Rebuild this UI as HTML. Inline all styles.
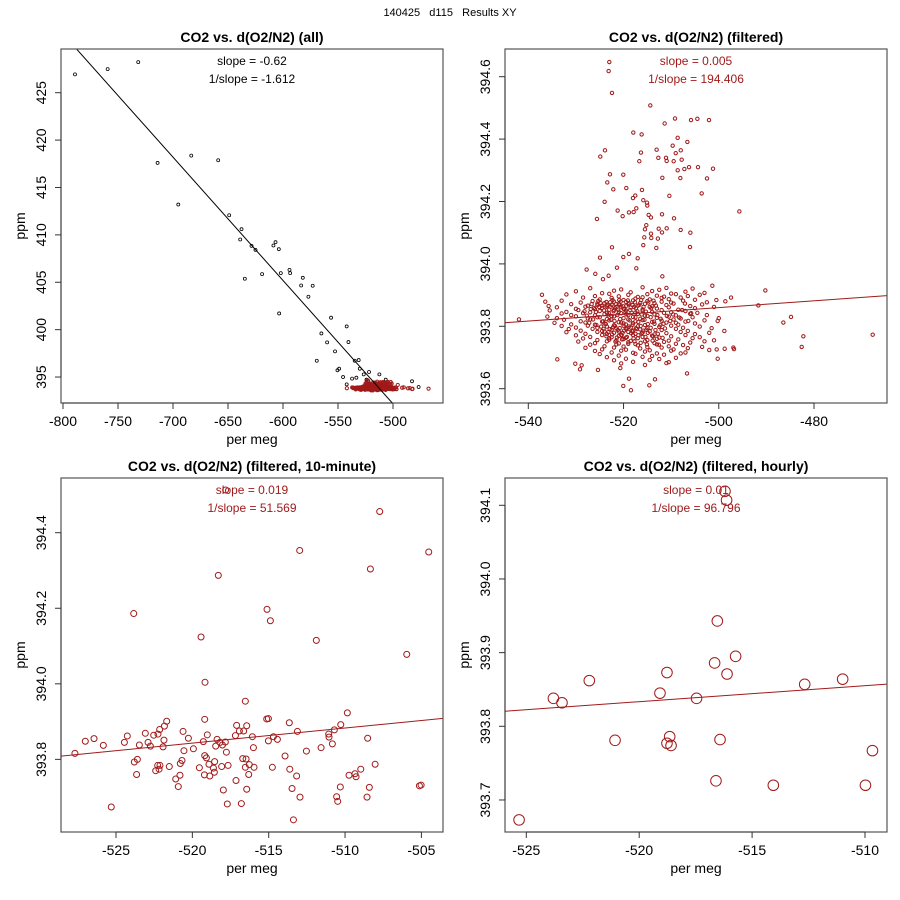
<!DOCTYPE html>
<html><head><meta charset="utf-8">
<style>
html,body{margin:0;padding:0;background:#fff;}
svg{display:block;font-family:"Liberation Sans",sans-serif;}
</style></head>
<body>
<svg id="chart" width="900" height="900" viewBox="0 0 900 900" xmlns="http://www.w3.org/2000/svg">
<rect x="0" y="0" width="900" height="900" fill="#fff"/>
<text x="450" y="16" text-anchor="middle" font-size="11" style="white-space:pre">140425   d115   Results XY</text>
</svg>
<script>
// ---- data ----
const allX = [-789.1,-759.4,-731.6,-714.0,-695.2,-683.4,-658.9,-648.9,-637.7,-638.9,-634.7,-628.6,-625.0,-619.0,-608.7,-606.8,-603.8,-602.0,-603.5,-594.1,-593.5,-582.0,-583.5,-573.0,-576.9,-556.3,-565.1,-559.9,-569.3,-552.7,-542.1,-540.5,-534.8,-531.2,-530.2,-550.5,-549.0,-545.4,-537.2,-533.3,-542.1,-526.6,-521.8,-512.4,-482.7,-476.7,-506.6,-524.1];
const allY = [426.93,427.49,428.23,417.59,413.20,418.36,417.87,412.07,410.60,409.51,405.37,408.84,408.42,405.86,408.88,409.23,408.49,405.96,401.71,406.31,405.96,405.47,404.66,404.63,403.47,401.26,399.60,398.66,396.72,397.71,400.34,398.69,396.72,396.79,395.88,395.71,395.88,395.00,394.83,394.93,394.23,395.28,395.53,395.28,394.55,393.95,394.72,394.72];
const allFit = [-0.1301, 327.13]; // slope, intercept

const filtOutX = [-522.99,-523.13,-522.43,-514.38,-511.37,-509.19,-505.83,-504.50,-502.05,-517.95,-516.20,-508.63,-506.60,-509.68,-513.05,-523.90,-516.34,-524.88,-507.99,-509.04,-512.69,-511.08,-510.94,-516.69,-509.47,-507.79,-504.36,-506.25,-507.23,-508.63,-501.21,-522.85,-520.05,-511.85,-508.07,-502.47,-523.41,-519.42,-522.15,-516.13,-503.59,-518.02,-510.38,-517.53,-523.97,-515.85,-515.08,-515.01,-495.68,-521.24,-518.86,-517.88,-517.32,-511.92,-520.19,-525.58,-514.73,-514.24,-509.40,-515.22,-515.50,-512.62,-510.94,-514.24,-511.92,-508.00,-505.97,-515.64,-512.79,-514.17,-515.85,-513.12,-506.04,-522.43,-520.05,-518.86,-524.95,-517.03,-521.38,-517.32,-527.75,-525.93,-523.13,-524.32,-511.85,-490.22,-491.69,-486.44,-484.83,-482.24,-482.59,-467.68,-496.94,-496.80,-497.43,-498.62,-498.83,-500.51,-501.35,-541.96,-537.13,-536.43,-533.91,-530.13,-529.15,-528.80,-525.37,-520.05,-518.44,-514.59,-513.40,-520.68,-518.86,-506.67,-500.23,-500.44,-500.23,-498.76,-535.73];
const filtOutY = [394.647,394.618,394.548,394.508,394.450,394.466,394.461,394.465,394.461,394.421,394.415,394.404,394.391,394.379,394.366,394.364,394.357,394.344,394.364,394.355,394.340,394.340,394.330,394.329,394.329,394.334,394.310,394.310,394.304,394.300,394.305,394.287,394.286,394.276,394.275,394.274,394.261,394.243,394.239,394.237,394.226,394.211,394.218,394.219,394.199,394.204,394.196,394.187,394.168,394.171,394.165,394.166,394.178,394.159,394.153,394.144,394.157,394.149,394.146,394.124,394.111,394.113,394.114,394.097,394.101,394.109,394.100,394.085,394.081,394.083,394.060,394.051,394.054,394.053,394.022,394.032,394.020,394.018,393.988,393.986,393.982,393.968,393.962,393.951,393.960,393.915,393.867,393.812,393.830,393.768,393.734,393.773,393.732,393.727,393.892,393.880,393.785,393.884,393.930,393.822,393.901,393.879,393.694,393.680,393.662,393.675,393.660,393.609,393.595,393.611,393.630,393.666,393.632,393.649,393.696,393.726,393.817,393.728,393.865];
// dense cluster of filtered data, "x,y" pairs
const filtCluster = [
"-527,393.922","-520.5,393.918","-516,393.925","-512.5,393.917","-511,393.923","-505.5,393.921",
"-530,393.912","-524.5,393.906","-522,393.914","-518.5,393.909","-514,393.913","-510,393.905","-507,393.911","-503,393.907",
"-532,393.902","-526,393.897","-523,393.904","-521,393.896","-519,393.901","-517,393.894","-515,393.903","-513,393.898","-511.5,393.895","-509,393.903","-506.5,393.897","-504,393.901",
"-528.5,393.892","-525,393.886","-522.5,393.891","-520,393.884","-517.5,393.889","-516,393.893","-514.5,393.886","-512,393.891","-510.5,393.887","-508,393.892","-505,393.885",
"-533,393.882","-529,393.876","-526.5,393.881","-524,393.874","-522,393.879","-521,393.872","-519.5,393.878","-518,393.883","-516.5,393.875","-515,393.881","-513.5,393.874","-512,393.879","-510,393.876","-507.5,393.882","-502.5,393.877",
"-531,393.871","-527.5,393.866","-525.5,393.873","-523.5,393.864","-522.5,393.869","-520.5,393.863","-519,393.871","-517,393.866","-515.5,393.872","-514,393.864","-511,393.868","-509.5,393.873","-506,393.865","-503.5,393.870",
"-534,393.861","-530,393.856","-528,393.863","-526,393.855","-524.5,393.859","-523,393.853","-521.5,393.862","-520,393.856","-518.5,393.860","-516,393.854","-514.5,393.862","-513,393.857","-510.5,393.861","-508.5,393.853","-505,393.858","-501,393.862",
"-535.5,393.851","-532,393.846","-529.5,393.852","-527,393.845","-525,393.849","-523.5,393.843","-522,393.852","-521,393.847","-519.5,393.851","-517.5,393.844","-516,393.850","-514,393.846","-512,393.852","-510,393.845","-507,393.849","-504.5,393.843",
"-533,393.841","-531,393.836","-528.5,393.842","-526,393.835","-524,393.839","-522.5,393.833","-520.5,393.842","-519,393.836","-517,393.840","-515.5,393.834","-513.5,393.838","-511.5,393.843","-509,393.835","-506,393.840","-502.5,393.836",
"-536,393.831","-534,393.826","-530,393.832","-527.5,393.825","-525.5,393.829","-523.5,393.823","-522,393.832","-520,393.826","-518,393.830","-516.5,393.824","-515,393.833","-513,393.827","-510.5,393.831","-508,393.825","-505.5,393.829","-500,393.826",
"-532.5,393.821","-529,393.816","-527,393.822","-524.5,393.815","-523,393.819","-521,393.813","-519,393.822","-517.5,393.816","-516,393.820","-514,393.814","-512,393.818","-509.5,393.822","-507,393.815","-503,393.819",
"-534.5,393.811","-531,393.806","-528,393.812","-526,393.805","-524,393.809","-522,393.803","-520.5,393.812","-519.5,393.806","-518,393.810","-515.5,393.804","-513.5,393.808","-511,393.812","-508.5,393.805","-505,393.809",
"-533,393.801","-530,393.796","-527.5,393.802","-525.5,393.795","-523.5,393.799","-521.5,393.793","-520,393.802","-518.5,393.796","-517,393.800","-515,393.794","-512.5,393.798","-510,393.802","-507.5,393.795","-504,393.799","-501.5,393.794",
"-531.5,393.791","-529,393.786","-526.5,393.792","-524.5,393.785","-522.5,393.789","-521,393.783","-519.5,393.792","-518,393.786","-516.5,393.790","-514.5,393.784","-512,393.788","-509,393.792","-506.5,393.785",
"-532,393.781","-528,393.776","-525.5,393.782","-523.5,393.775","-522,393.779","-520.5,393.773","-519,393.782","-517.5,393.776","-516,393.780","-513.5,393.774","-511,393.778","-508,393.782","-505,393.775","-502,393.779",
"-530,393.771","-527,393.766","-524.5,393.772","-522.5,393.765","-521,393.769","-519.5,393.763","-518,393.772","-516,393.766","-514,393.770","-512.5,393.764","-510,393.768","-507,393.772","-504,393.765",
"-528.5,393.761","-525.5,393.756","-523,393.762","-521.5,393.755","-520,393.759","-518.5,393.753","-517,393.762","-515,393.756","-513,393.760","-510.5,393.754","-508.5,393.758","-505.5,393.762","-501,393.755",
"-529.5,393.751","-526,393.746","-523.5,393.752","-521,393.745","-519,393.749","-517.5,393.743","-515.5,393.752","-513.5,393.746","-511.5,393.750","-509,393.744","-506,393.748","-503,393.752",
"-527,393.741","-524,393.736","-521.5,393.742","-520,393.735","-517,393.739","-515,393.733","-513,393.742","-510.5,393.736","-507.5,393.740","-503.5,393.734",
"-528,393.731","-524.5,393.726","-522,393.732","-519.5,393.725","-516.5,393.729","-514.5,393.723","-512,393.732","-509.5,393.726","-506.5,393.730","-502,393.724",
"-526,393.721","-522.5,393.716","-520.5,393.722","-518,393.715","-515.5,393.719","-513,393.713","-510,393.722","-507,393.716",
"-525,393.711","-521,393.706","-517.5,393.712","-514,393.705","-511.5,393.709","-508,393.713",
"-523.5,393.701","-519.5,393.696","-516,393.702","-512.5,393.695","-509,393.699",
"-522,393.691","-518,393.686","-514.5,393.692","-510.5,393.685",
"-520.5,393.681","-515.5,393.676","-511,393.682",
"-525.5,393.868","-524.8,393.874","-523.8,393.861","-522.8,393.877","-521.8,393.858","-520.8,393.869","-519.8,393.855","-518.8,393.874","-517.8,393.862",
"-524.2,393.792","-523.2,393.781","-522.2,393.797","-521.2,393.788","-520.2,393.779","-519.2,393.795","-518.2,393.784","-517.2,393.791","-516.2,393.777","-515.2,393.789",
"-526.7,393.871","-526.2,393.859","-525.8,393.846","-525.3,393.881","-524.6,393.866","-524.1,393.851","-523.6,393.878","-523.1,393.842","-522.7,393.863","-522.3,393.884","-521.6,393.871","-521.1,393.853","-520.6,393.879","-520.1,393.864","-519.6,393.845","-519.1,393.883","-518.6,393.852","-518.1,393.868","-517.6,393.877","-517.1,393.848",
"-526.9,393.855","-525.1,393.862","-523.4,393.869","-522.1,393.848","-520.9,393.884","-519.4,393.866","-518.3,393.843","-517.4,393.858","-516.7,393.869","-516.3,393.884","-515.8,393.862","-515.3,393.847","-514.8,393.876","-514.2,393.858","-513.7,393.882","-513.2,393.866",
"-524.7,393.799","-524.0,393.783","-523.6,393.768","-522.9,393.791","-522.4,393.774","-521.8,393.801","-521.4,393.764","-520.8,393.794","-520.4,393.771","-519.9,393.786","-519.3,393.766","-518.9,393.799","-518.4,393.778","-517.9,393.761","-517.4,393.794","-516.9,393.771","-516.4,393.801","-515.9,393.786","-515.4,393.766","-514.9,393.779",
"-514.3,393.795","-513.8,393.768","-513.3,393.788","-512.8,393.776","-512.3,393.803","-511.8,393.763","-511.3,393.793","-523.0,393.757","-521.7,393.751","-520.3,393.758","-519.0,393.744","-517.7,393.752","-516.4,393.747","-515.1,393.742","-513.9,393.754","-512.6,393.741",
"-528.2,393.848","-527.7,393.834","-527.2,393.811","-526.4,393.822","-525.7,393.804","-525.0,393.829","-524.3,393.816","-523.7,393.807","-523.2,393.835","-522.6,393.821","-521.9,393.817","-521.3,393.836","-520.7,393.823","-520.0,393.809","-519.4,393.838","-518.7,393.819","-518.1,393.805","-517.5,393.829","-516.9,393.814","-516.2,393.838",
"-515.6,393.821","-514.9,393.807","-514.3,393.829","-513.6,393.815","-512.9,393.836","-512.2,393.824","-511.6,393.808","-510.9,393.833","-510.2,393.817","-509.6,393.838","-509.0,393.811","-508.3,393.828","-507.7,393.852","-507.1,393.873","-506.4,393.817","-505.8,393.842"
];
const filtFit = [0.00108, 394.400];

const tenX = [-527.69,-527.01,-526.44,-525.83,-525.31,-524.45,-524.26,-523.84,-523.80,-523.60,-523.65,-523.47,-523.08,-522.90,-522.75,-522.53,-522.40,-522.27,-522.25,-522.18,-522.12,-522.14,-521.92,-521.86,-521.83,-521.68,-521.51,-521.09,-520.92,-520.81,-520.79,-520.68,-520.61,-520.55,-520.26,-519.93,-519.54,-519.43,-519.28,-519.19,-519.19,-519.17,-519.08,-519.21,-519.02,-518.91,-518.86,-518.62,-518.54,-518.56,-518.47,-518.38,-518.30,-518.19,-518.08,-518.03,-517.97,-517.84,-517.77,-517.71,-517.66,-517.18,-517.14,-517.10,-516.92,-516.79,-516.70,-516.64,-516.53,-516.53,-516.48,-516.44,-516.44,-516.31,-516.27,-516.07,-516.00,-515.96,-515.13,-515.02,-515.11,-515.02,-514.89,-514.76,-514.69,-514.43,-513.93,-513.65,-513.62,-513.47,-513.38,-513.17,-513.12,-512.97,-512.95,-512.53,-511.88,-511.57,-511.07,-511.05,-510.83,-510.70,-510.55,-510.48,-510.31,-510.28,-509.85,-509.74,-509.35,-509.28,-508.97,-508.56,-508.52,-508.41,-508.34,-508.03,-507.73,-505.96,-505.13,-505.02,-504.52,-517.82];
const tenY = [393.816,393.848,393.855,393.837,393.674,393.845,393.862,394.186,393.793,393.800,393.760,393.838,393.869,393.845,393.835,393.864,393.770,393.784,393.867,393.774,393.784,393.879,393.833,393.851,393.888,393.901,393.781,393.748,393.728,393.758,393.789,393.797,393.874,393.823,393.856,393.828,393.778,394.124,393.847,393.906,393.810,394.004,393.804,393.759,393.865,393.787,393.756,393.777,393.794,393.766,393.835,393.853,394.287,393.845,393.781,393.838,393.719,393.846,393.819,393.682,393.784,393.863,393.744,393.890,393.875,393.683,393.802,393.875,393.954,393.779,393.801,393.889,393.721,393.760,393.786,393.860,393.831,393.779,393.907,393.908,394.197,393.849,394.167,393.779,393.860,393.853,393.809,393.897,393.774,393.723,393.640,393.756,393.874,394.353,393.700,393.822,394.115,393.831,393.867,393.859,393.841,393.878,393.701,393.689,393.727,393.892,393.923,393.758,393.762,393.754,393.774,393.700,393.856,393.726,394.304,393.787,394.456,394.078,393.730,393.732,394.349,394.513];
const tenFit = [0.004, 395.923];

const hrX = [-525.32,-523.80,-523.42,-522.21,-521.07,-519.08,-518.77,-518.65,-518.77,-518.59,-517.46,-516.66,-516.54,-516.11,-516.42,-516.60,-515.73,-516.20,-516.13,-514.06,-512.67,-510.99,-509.98,-509.67];
const hrY = [393.673,393.838,393.832,393.862,393.781,393.845,393.873,393.786,393.777,393.774,393.838,393.886,393.943,393.871,393.782,393.726,393.895,394.119,394.107,393.720,393.857,393.864,393.720,393.767];
const hrFit = [0.00218, 394.967];

const p1XTicks = [-800,-750,-700,-650,-600,-550,-500];
const p1YTicks = [395,400,405,410,415,420,425];
const p2XTicks = [-540,-520,-500,-480];
const p2YTicks = [393.6,393.8,394.0,394.2,394.4,394.6];
const p3XTicks = [-525,-520,-515,-510,-505];
const p3YTicks = [393.8,394.0,394.2,394.4];
const p4XTicks = [-525,-520,-515,-510];
const p4YTicks = [393.7,393.8,393.9,394.0,394.1];

// ---- drawing ----
const NS = "http://www.w3.org/2000/svg";
const svg = document.getElementById("chart");
const RED = "#a11a1a";
function mk(tag, attrs, parent){
  const e = document.createElementNS(NS, tag);
  for (const k in attrs) e.setAttribute(k, attrs[k]);
  (parent||svg).appendChild(e);
  return e;
}
const clX = filtCluster.map(s => parseFloat(s.split(",")[0]));
const clY = filtCluster.map(s => parseFloat(s.split(",")[1]));
const filtX = filtOutX.concat(clX);
const filtY = filtOutY.concat(clY);

function panel(cfg){
  const g = mk("g", {});
  
  
  const sx = v => cfg.x0 + (v - cfg.xv0) * cfg.kx;
  const sy = v => cfg.y0 + (cfg.yv0 - v) * cfg.ky;
  const cid = cfg.name + "-clip";
  const cp = mk("clipPath", {id: cid}, g);
  mk("rect", {x: cfg.L, y: cfg.T, width: cfg.R - cfg.L, height: cfg.B - cfg.T}, cp);
  const t = mk("text", {x: (cfg.L + cfg.R)/2, y: cfg.T - 7, "text-anchor": "middle", "font-size": 14, "font-weight": "bold"}, g);
  t.textContent = cfg.title;
  
  
  const plot = mk("g", {"clip-path": "url(#" + cid + ")"}, g);
  
  
  cfg.series.forEach(s => {
    for (let i = 0; i < s.x.length; i++) {
      const c = mk("circle", {cx: sx(s.x[i]).toFixed(2), cy: sy(s.y[i]).toFixed(2), r: s.r, fill: "none", stroke: s.color, "stroke-width": s.sw}, plot);
      
      
    }
  });
  const va = cfg.xv0 + (cfg.L - cfg.x0)/cfg.kx, vb = cfg.xv0 + (cfg.R - cfg.x0)/cfg.kx;
  const fl = mk("line", {x1: sx(va), y1: sy(cfg.fit[0]*va + cfg.fit[1]), x2: sx(vb), y2: sy(cfg.fit[0]*vb + cfg.fit[1]), stroke: cfg.fitColor, "stroke-width": 1}, plot);
  
  
  const box = mk("rect", {x: cfg.L, y: cfg.T, width: cfg.R - cfg.L, height: cfg.B - cfg.T, fill: "none", stroke: "#555", "stroke-width": 1.2}, g);
  
  
  const xt = cfg.xTicks;
  mk("line", {x1: sx(xt[0]), x2: sx(xt[xt.length-1]), y1: cfg.B, y2: cfg.B, stroke: "#333"}, g);
  xt.forEach(v => {
    mk("line", {x1: sx(v), x2: sx(v), y1: cfg.B, y2: cfg.B + 6, stroke: "#333"}, g);
    const tl = mk("text", {x: sx(v), y: cfg.B + 23, "text-anchor": "middle", "font-size": 14}, g);
    tl.textContent = cfg.xFmt(v);
    
    
  });
  const xl = mk("text", {x: (cfg.L + cfg.R)/2, y: cfg.B + 41, "text-anchor": "middle", "font-size": 14}, g);
  xl.textContent = "per meg";
  
  
  const yt = cfg.yTicks;
  mk("line", {x1: cfg.L, x2: cfg.L, y1: sy(yt[0]), y2: sy(yt[yt.length-1]), stroke: "#333"}, g);
  yt.forEach(v => {
    mk("line", {x1: cfg.L - 6, x2: cfg.L, y1: sy(v), y2: sy(v), stroke: "#333"}, g);
    const tx = cfg.L - 15, ty = sy(v);
    const tl = mk("text", {x: tx, y: ty, "text-anchor": "middle", "font-size": 14, transform: "rotate(-90 " + tx + " " + ty + ")"}, g);
    tl.textContent = cfg.yFmt(v);
    
    
  });
  const yx = cfg.L - 36, yy = (cfg.T + cfg.B)/2;
  const yl = mk("text", {x: yx, y: yy, "text-anchor": "middle", "font-size": 14, transform: "rotate(-90 " + yx + " " + yy + ")"}, g);
  yl.textContent = "ppm";
  
  
  const cx = (cfg.L + cfg.R)/2;
  const s1 = mk("text", {x: cx, y: cfg.T + 16, "text-anchor": "middle", "font-size": 12, fill: cfg.txtColor}, g);
  s1.textContent = cfg.s1;
  
  
  const s2 = mk("text", {x: cx, y: cfg.T + 34, "text-anchor": "middle", "font-size": 12, fill: cfg.txtColor}, g);
  s2.textContent = cfg.s2;
  
  
}
const f0 = v => String(v), f1 = v => v.toFixed(1);
panel({name:"panel-all", title:"CO2 vs. d(O2/N2) (all)", L:61, R:443, T:49, B:403,
  x0:63, xv0:-800, kx:1.1, y0:92.7, yv0:425, ky:9.478,
  series:[{x:allX, y:allY, r:1.5, sw:0.8, color:"#000"},{x:filtX, y:filtY, r:1.6, sw:1, color:RED}],
  fit:allFit, fitColor:"#000", xTicks:p1XTicks, yTicks:p1YTicks, xFmt:f0, yFmt:f0,
  s1:"slope = -0.62", s2:"1/slope = -1.612", txtColor:"#000"});
panel({name:"panel-filtered", title:"CO2 vs. d(O2/N2) (filtered)", L:505, R:887, T:49, B:403,
  x0:528.3, xv0:-540, kx:4.762, y0:76.7, yv0:394.6, ky:312,
  series:[{x:filtX, y:filtY, r:1.7, sw:1, color:RED}],
  fit:filtFit, fitColor:RED, xTicks:p2XTicks, yTicks:p2YTicks, xFmt:f0, yFmt:f1,
  s1:"slope = 0.005", s2:"1/slope = 194.406", txtColor:RED});
panel({name:"panel-10-minute", title:"CO2 vs. d(O2/N2) (filtered, 10-minute)", L:61, R:443, T:478, B:832,
  x0:116, xv0:-525, kx:15.27, y0:532.7, yv0:394.4, ky:377.8,
  series:[{x:tenX, y:tenY, r:3, sw:1, color:RED}],
  fit:tenFit, fitColor:RED, xTicks:p3XTicks, yTicks:p3YTicks, xFmt:f0, yFmt:f1,
  s1:"slope = 0.019", s2:"1/slope = 51.569", txtColor:RED});
panel({name:"panel-hourly", title:"CO2 vs. d(O2/N2) (filtered, hourly)", L:505, R:887, T:478, B:832,
  x0:526.3, xv0:-525, kx:22.58, y0:505.3, yv0:394.1, ky:736.7,
  series:[{x:hrX, y:hrY, r:5.3, sw:1, color:RED}],
  fit:hrFit, fitColor:RED, xTicks:p4XTicks, yTicks:p4YTicks, xFmt:f0, yFmt:f1,
  s1:"slope = 0.01", s2:"1/slope = 96.796", txtColor:RED});
</script>
</body></html>
